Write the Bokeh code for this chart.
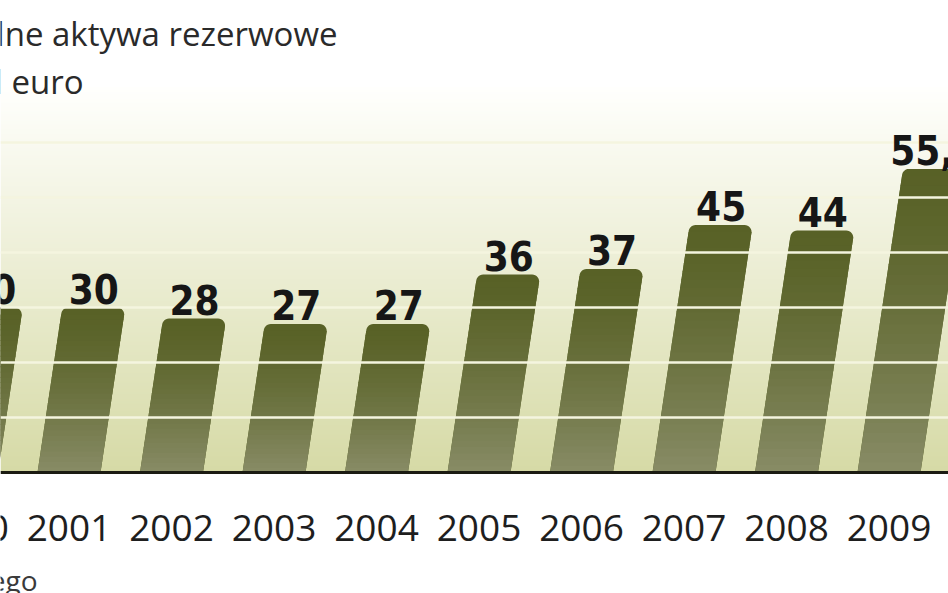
import numpy as np
from bokeh.plotting import figure
from bokeh.models import Range1d, Label, ColumnDataSource
from bokeh.core.properties import value
from bokeh.embed import file_html
from bokeh.resources import INLINE

# ---------------- data ----------------
TITLE_LINE1 = "Oficjalne aktywa rezerwowe"
TITLE_LINE2 = "w mld euro"
SOURCE_TEXT = "Źródło: dane Narodowego Banku Polskiego"

YEARS = [2000, 2001, 2002, 2003, 2004, 2005, 2006, 2007, 2008, 2009]
VALUES = [30, 30, 28, 27, 27, 36, 37, 45, 44, 55.2]
TICK_YEARS = [2000, 2001, 2002, 2003, 2004, 2005, 2006, 2007, 2008, 2009, 2010]
GRID_VALUES = [10, 20, 30, 40, 50, 60]

# ---------------- layout ----------------
W, H = 948, 593
PXY = 102.5          # pixels per year
PXV = 5.5            # pixels per value unit
X0 = 2001 - 68.5 / PXY
X1 = X0 + W / PXY
BASE_PY = 472        # baseline pixel row (from top)
BAR_W = 63.0
SLANT = 0.15
RAD = 7.0

def to_x(px):
    return X0 + px / PXY

def to_y(py_from_top):
    return (BASE_PY - py_from_top) / PXV

p = figure(width=W, height=H, output_backend="svg", toolbar_location=None,
           x_range=Range1d(X0, X1),
           y_range=Range1d(-(H - BASE_PY) / PXV, BASE_PY / PXV),
           min_border=0)
p.xaxis.visible = False
p.yaxis.visible = False
p.grid.visible = False
p.outline_line_color = None
p.background_fill_color = "white"
p.border_fill_color = "white"

def mix_rgb(c0, c1, t):
    return tuple(int(round(a + (b - a) * t)) for a, b in zip(c0, c1))

def mix(c0, c1, t):
    return "#%02x%02x%02x" % mix_rgb(c0, c1, t)

# background gradient (styling) as one image
BG_BOTTOM = (214, 218, 166)
BG_TOP = (255, 255, 253)
BG_SPAN = 70.0
nrows = 420
img = np.zeros((nrows, 1), dtype=np.uint32)
view = img.view(dtype=np.uint8).reshape((nrows, 1, 4))
for r in range(nrows):
    c = mix_rgb(BG_BOTTOM, BG_TOP, r / (nrows - 1))
    view[r, 0, 0], view[r, 0, 1], view[r, 0, 2], view[r, 0, 3] = c[0], c[1], c[2], 255
p.image_rgba(image=[img], x=X0, y=0, dw=X1 - X0, dh=BG_SPAN)

# bars
BAR_TOP_C = (88, 97, 38)
BAR_BOT_C = (136, 140, 102)

full_xs, full_ys = [], []
sl_xs, sl_ys, sl_cols = [], [], []
for yr, v in zip(YEARS, VALUES):
    cx = (yr - X0) * PXY
    h = v * PXV
    bl, br = cx - BAR_W / 2, cx + BAR_W / 2
    pts = [(bl, 0.0), (br, 0.0), (br + SLANT * (h - RAD), h - RAD)]
    ccx, ccy = br + SLANT * (h - RAD) - RAD, h - RAD
    for a in np.linspace(0, np.pi / 2, 8):
        pts.append((ccx + RAD * np.cos(a), ccy + RAD * np.sin(a)))
    ccx2 = bl + SLANT * (h - RAD) + RAD
    for a in np.linspace(np.pi / 2, np.pi, 8):
        pts.append((ccx2 + RAD * np.cos(a), ccy + RAD * np.sin(a)))
    full_xs.append([to_x(q[0]) for q in pts])
    full_ys.append([q[1] / PXV for q in pts])
    top_lim = h - RAD
    n = 30
    edges = np.linspace(0, top_lim, n + 1)
    for k in range(n):
        y0, y1 = edges[k], min(edges[k + 1] + 0.8, top_lim)
        t = ((y0 + y1) / 2) / h
        col = mix(BAR_TOP_C, BAR_BOT_C, (1 - t) ** 1.4)
        xs = [bl + SLANT * y0, br + SLANT * y0, br + SLANT * y1, bl + SLANT * y1]
        sl_xs.append([to_x(q) for q in xs])
        sl_ys.append([y0 / PXV, y0 / PXV, y1 / PXV, y1 / PXV])
        sl_cols.append(col)

p.patches(xs=full_xs, ys=full_ys, fill_color=mix(BAR_TOP_C, BAR_BOT_C, 0), line_color=None)
p.patches(xs=sl_xs, ys=sl_ys, fill_color=sl_cols, line_color=None)

# gridlines over bars but under the texts
p.segment(x0=[X0] * len(GRID_VALUES), y0=GRID_VALUES, x1=[X1] * len(GRID_VALUES), y1=GRID_VALUES,
          line_color="#f4f5df", line_width=2.5)
p.segment(x0=[X0], y0=[0], x1=[X1], y1=[0], line_color="#1b1b12", line_width=3)

# value labels
lab_src = ColumnDataSource(dict(
    x=[yr + SLANT * v * PXV / PXY for yr, v in zip(YEARS, VALUES)],
    y=[v + 19 / PXV for v in VALUES],
    t=[("%g" % v).replace(".", ",") for v in VALUES],
))
p.text(x="x", y="y", text="t", source=lab_src, text_align="center", text_baseline="alphabetic",
       text_font=value("DejaVu Sans Condensed"),
       text_font_style="bold", text_font_size="40px", text_color="#161616")

# year labels
yr_src = ColumnDataSource(dict(x=TICK_YEARS, y=[-10.0] * len(TICK_YEARS),
                               t=[str(y) for y in TICK_YEARS]))
p.text(x="x", y="y", text="t", source=yr_src, text_align="center", text_baseline="alphabetic",
       text_font=value("Open Sans"), text_font_size="37px", text_color="#1e1e1e")

# title & source
p.add_layout(Label(x=to_x(337), y=to_y(33), text=TITLE_LINE1, text_align="right",
                   text_baseline="alphabetic", text_font="Open Sans", text_font_size="33px",
                   text_color="#2a2a2a"))
p.add_layout(Label(x=to_x(83), y=to_y(81), text=TITLE_LINE2, text_align="right",
                   text_baseline="alphabetic", text_font="Open Sans", text_font_size="33px",
                   text_color="#2a2a2a"))
p.add_layout(Label(x=to_x(37), y=to_y(579), text=SOURCE_TEXT, text_align="right",
                   text_baseline="alphabetic", text_font="Open Sans", text_font_size="28px",
                   text_color="#3a3a3a"))

open("out.html", "w").write(file_html(p, INLINE))
